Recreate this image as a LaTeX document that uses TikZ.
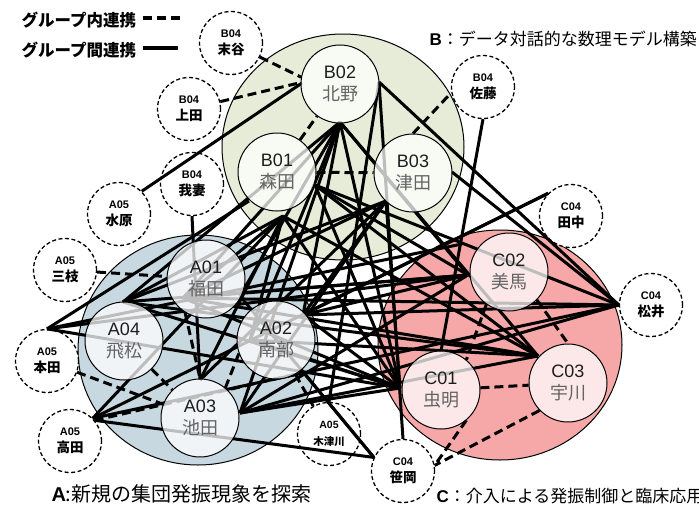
\documentclass[tikz,border=0pt]{standalone}
\usepackage{fontspec}
\setmainfont{Liberation Sans}
\newfontfamily\jp{Noto Sans CJK JP}
\usetikzlibrary{calc}

\definecolor{grpA}{RGB}{199,216,224}
\definecolor{grpB}{RGB}{231,236,216}
\definecolor{grpC}{RGB}{246,168,168}
\definecolor{nameink}{RGB}{100,100,100}
\definecolor{codeink}{RGB}{30,30,30}

\pgfdeclarelayer{bg}
\pgfdeclarelayer{guests}
\pgfdeclarelayer{edges}
\pgfsetlayers{bg,guests,edges,main}

\tikzset{
  group/.style={draw=black, line width=1pt},
  member/.style={circle, draw=black, line width=1pt, fill=white, fill opacity=0.74,
    text opacity=1, minimum size=78pt, inner sep=0pt, align=center,
    font=\fontsize{18}{22}\selectfont, text=codeink},
  guest/.style={circle, draw=black, dash pattern=on 4pt off 2.5pt, line width=1.3pt,
    fill=white, minimum size=63pt, inner sep=0pt, align=center,
    font=\bfseries\fontsize{13.5}{17}\selectfont},
  link/.style={line width=3pt},
  inlink/.style={line width=3pt, dash pattern=on 9pt off 5pt},
}

\newcommand{\mlabel}[2]{#1\\{\jp\color{nameink}#2}}
\newcommand{\glabel}[2]{{\fontsize{11}{17}\selectfont #1}\\{\jp\bfseries #2}}
\newcommand{\gsmall}[2]{{\fontsize{10.5}{14}\selectfont #1}\\{\jp\bfseries\fontsize{10.5}{14}\selectfont #2}}

\begin{document}
\begin{tikzpicture}[x=1pt,y=-1pt]
\path[use as bounding box] (0,0) rectangle (699,506);

% three research groups
\begin{pgfonlayer}{bg}
  \draw[group, fill=grpB] (343,147) ellipse [x radius=121pt, y radius=113pt];
  \draw[group, fill=grpA] (198,350) ellipse [x radius=120pt, y radius=115pt];
  \draw[group, fill=grpC] (500,345) ellipse [x radius=122pt, y radius=115pt];
\end{pgfonlayer}

% collaborating members (dashed circles)
\begin{pgfonlayer}{guests}
  \node[guest] (sue)  at (231,43)  {\glabel{B04}{末谷}};
  \node[guest] (ueda) at (189,109) {\glabel{B04}{上田}};
  \node[guest] (wag)  at (192,184) {\glabel{B04}{我妻}};
  \node[guest] (sat)  at (483,87)  {\glabel{B04}{佐藤}};
  \node[guest] (miz)  at (119,214) {\glabel{A05}{水原}};
  \node[guest] (san)  at (65,270)  {\glabel{A05}{三枝}};
  \node[guest] (hon)  at (47,361)  {\glabel{A05}{本田}};
  \node[guest] (tak)  at (70,441)  {\glabel{A05}{高田}};
  \node[guest] (kiz)  at (329,434) {\gsmall{A05}{木津川}};
  \node[guest] (tan)  at (571,216) {\glabel{C04}{田中}};
  \node[guest] (mat)  at (651,305) {\glabel{C04}{松井}};
  \node[guest] (sas)  at (403,471) {\glabel{C04}{笹岡}};
\end{pgfonlayer}

% core members
\node[member] (B02) at (340,84)  {\mlabel{B02}{北野}};
\node[member] (B01) at (277,172) {\mlabel{B01}{森田}};
\node[member] (B03) at (413,173) {\mlabel{B03}{津田}};
\node[member] (A01) at (206,279) {\mlabel{A01}{福田}};
\node[member] (A02) at (276,340) {\mlabel{A02}{南部}};
\node[member] (A04) at (124,341) {\mlabel{A04}{飛松}};
\node[member] (A03) at (200,418) {\mlabel{A03}{池田}};
\node[member] (C02) at (509,272) {\mlabel{C02}{美馬}};
\node[member] (C01) at (441,390) {\mlabel{C01}{虫明}};
\node[member] (C03) at (568,383) {\mlabel{C03}{宇川}};

% points where the links of one member meet
\coordinate (hB2s) at (340,122);
\coordinate (hB2w) at (302,83);
\coordinate (hB2e) at (379,82);
\coordinate (hB1s) at (283,216);
\coordinate (hB1w) at (249,201);
\coordinate (hB1e) at (315,185);
\coordinate (hB3s) at (386,201);
\coordinate (hB3e) at (452,172);
\coordinate (hA1)  at (183,298);
\coordinate (hA1e) at (240,296);
\coordinate (hA2w) at (250,340);
\coordinate (hA2n) at (303,315);
\coordinate (hA2s) at (300,368);
\coordinate (hA4n) at (123,302);
\coordinate (hA3n) at (200,380);
\coordinate (hA3e) at (240,413);
\coordinate (hC1)  at (400,388);
\coordinate (hC1n) at (441,351);
\coordinate (hC3)  at (538,356);
\coordinate (hC2)  at (468,275);
\coordinate (hC2n) at (462,244);

\begin{pgfonlayer}{edges}
  % links between groups
  \foreach \s/\t in {
    miz.45/hB2w, hon.north/hB1w, wag.south/hA3n,
    hB1s/hA1, hB1s/hA3n, hB1s/hA2w, hB1s/hA4n,
    hB2s/hA1e, hB2s/hA2w, hB2s/hA2n, hB2s/hA3e, hB2s/hA4n, hB2s/hA1,
    hB2e/kiz.north, hB2e/sas.north, hB2e/mat.west,
    hB2s/hC3, hB2s/hC2, hB2s/hC1,
    hB3s/hA2n, hB3s/hA3e, hB3s/hA3n, hB3s/hA4n, hB3s/hA1, hB3s/hC1,
    hB3e/mat.west, sat.south/hC1n,
    hB1e/mat.west, hB1e/hC2, hB1e/hC3, hB1e/hC1, hB1s/hC3, hB1s/hC1,
    hA1/mat.west, hA1/hC3, hA1/hC1, hA1/hC2,
    hA4n/hC2, hA4n/hC1, hA4n/hC3, hon.north/hC2, hon.north/hC1, hon.north/hC2n,
    hA2n/mat.west, hA2n/hC2, hA2w/hC3, hA2n/hC1, hA2w/hC1,
    hA3e/hC2, hA3e/hC1, hA3e/mat.west, hA3e/hC3,
    tak.40/sas.155, tak.45/tan.135, hA2n/tan.135, hA1e/sas.155, hA2s/sas.155,
    tak.45/mat.west, tak.45/hB1s}
    \draw[link] (\s) -- (\t);

  % links inside each group
  \draw[inlink] (sue) -- (B02.170);
  \draw[inlink] (ueda) -- (B02.178);
  \draw[inlink] (B01) -- (B02);
  \draw[inlink] (B01) -- (B03);
  \draw[inlink] (B03.north) -- (sat.190);
  \draw[inlink] (san) -- (A01);
  \draw[inlink] (hon) -- (A03);
  \draw[inlink] (A01.-122) -- (A03.north);
  \draw[inlink] (A02.200) -- (A03.50);
  \draw[inlink] (A04) -- (A03);
  \draw[inlink] (tak.40) -- (A02.-60);
  \draw[inlink] (A02) -- (kiz);
  \draw[inlink] (C02.-45) -- (C03.north);
  \draw[inlink] (C02.-125) -- (C01.50);
  \draw[inlink] (C01) -- (C03);
  \draw[inlink] (C01.-50) -- (sas.10);
  \draw[inlink] (C03.-136) -- (sas.10);
\end{pgfonlayer}

% legend
\node[anchor=west, font=\jp\bfseries\fontsize{16.5}{18}\selectfont] (legIn) at (18,20) {グループ内連携};
\node[anchor=west, font=\jp\bfseries\fontsize{16.5}{18}\selectfont] (legOut) at (18,50) {グループ間連携};
\coordinate (legInA) at (143,18);
\coordinate (legInB) at (181,18);
\coordinate (legOutA) at (143,48);
\coordinate (legOutB) at (178,48);
\draw[inlink, line width=3.5pt] (legInA) -- (legInB);
\draw[link, line width=3.5pt] (legOutA) -- (legOutB);

% group titles
\node[anchor=west, font=\fontsize{17}{20}\selectfont] (titleB) at (426,39)
  {\textbf{B}{\jp ：データ対話的な数理モデル構築}};
\node[anchor=west, font=\fontsize{20}{22}\selectfont] (titleA) at (48,494)
  {\textbf{A}{\jp :新規の集団発振現象を探索}};
\node[anchor=west, font=\fontsize{17}{20}\selectfont] (titleC) at (433,496)
  {\textbf{C}{\jp ：介入による発振制御と臨床応用}};
\end{tikzpicture}
\end{document}
